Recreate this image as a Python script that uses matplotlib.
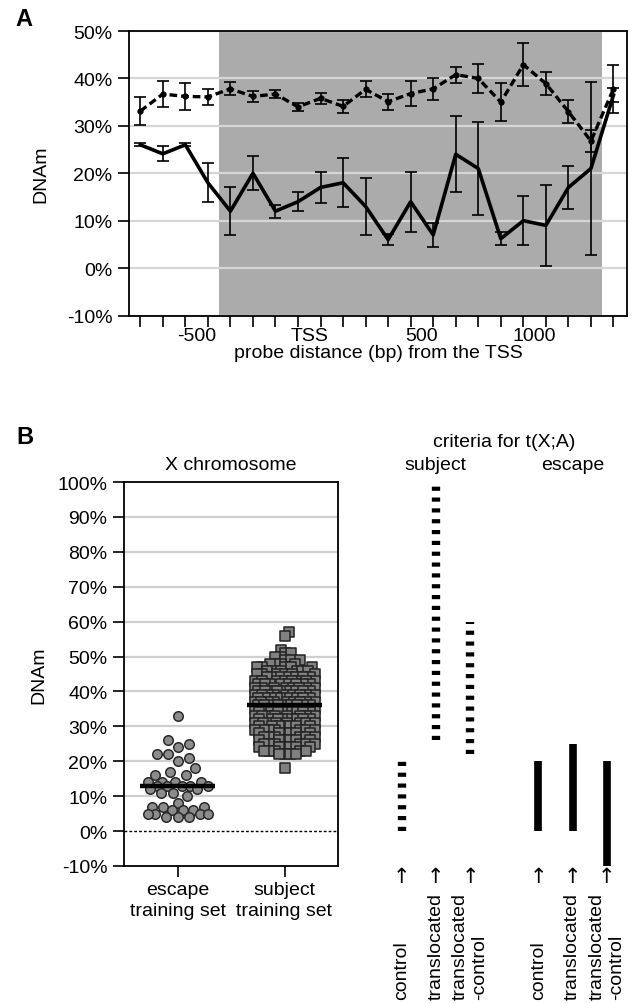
import matplotlib.pyplot as plt
import numpy as np
from matplotlib.ticker import PercentFormatter

# Panel A: probe positions (bp from the TSS) and mean DNAm (%) with error bars
PROBE_BP = [-750, -650, -550, -450, -350, -250, -150, -50, 50, 150, 250,
            350, 450, 550, 650, 750, 850, 950, 1050, 1150, 1250, 1350]
DNAM_DASHED = [33.1, 36.7, 36.2, 36.1, 37.8, 36.2, 36.7, 34.0, 35.8, 34.1, 37.7,
               35.1, 36.8, 37.8, 40.8, 40.0, 35.0, 42.9, 38.9, 33.0, 26.8, 37.8]
DNAM_DASHED_ERR = [2.9, 2.8, 2.8, 1.7, 1.4, 1.1, 0.8, 0.9, 1.1, 1.4, 1.7,
                   1.7, 2.6, 2.3, 1.7, 3.1, 4.0, 4.6, 2.5, 2.5, 2.4, 5.0]
DNAM_SOLID = [26.0, 24.1, 26.0, 18.0, 12.0, 20.0, 12.0, 14.0, 17.0, 18.0, 13.0,
              6.0, 14.0, 7.0, 24.0, 21.0, 6.2, 10.0, 9.0, 17.0, 21.0, 36.5]
DNAM_SOLID_ERR = [0.3, 1.6, 0.3, 4.1, 5.0, 3.6, 1.4, 2.0, 3.2, 5.2, 6.1,
                  1.1, 6.3, 2.6, 8.0, 9.9, 1.4, 5.2, 8.5, 4.6, 18.3, 1.5]
SHADED_BP = (-400, 1300)
TSS_TICKS = [-500, 0, 500, 1000]
TSS_TICK_LABELS = ['-500', 'TSS', '500', '1000']

# Panel B: X chromosome training sets (DNAm %)
ESCAPE_DNAM = [33, 26, 25, 24, 22, 22, 21, 20, 18, 17, 16, 16, 14, 14, 14, 14,
               13, 13, 13, 13, 13, 12, 12, 11, 11, 10, 8, 7, 7, 7, 6, 6, 6,
               5, 5, 5, 5, 4, 4, 4]
SUBJECT_LEVELS = [57, 56, 52, 51, 50, 49, 48, 47, 46, 45, 44, 43, 42, 41, 40,
                  39, 38, 37, 36, 35, 34, 33, 32, 31, 30, 29, 28, 27, 26, 25,
                  24, 23, 22, 18]
SUBJECT_COUNTS = [1, 1, 1, 2, 2, 3, 4, 5, 6, 6, 7, 8, 8, 8, 9,
                  9, 9, 9, 9, 9, 8, 8, 8, 8, 7, 7, 6, 6, 6, 6,
                  6, 5, 4, 1]
GROUP_LABELS = ['escape\ntraining set', 'subject\ntraining set']

# Panel B: criteria ranges for t(X;A)
CRITERIA_LABELS = ['control', 'translocated', 'translocated\n-control',
                   'control', 'translocated', 'translocated\n-control']
CRITERIA_LOW = [0, 26, 22, 0, 0, -10]
CRITERIA_HIGH = [20, 100, 60, 20, 25, 20]

plt.rcParams['font.family'] = ['Liberation Sans', 'DejaVu Sans']
plt.rcParams['font.size'] = 14
plt.rcParams['axes.unicode_minus'] = False


def swarm_offsets(values, ax, min_dist, max_half):
    """
    Greedy beeswarm layout for one column of points.
    :param values: y values of the points.
    :param ax: axes the points go on (used for the pixel scale).
    :param min_dist: wanted distance between marker centres, in pixels.
    :param max_half: largest horizontal offset allowed, in pixels.
    :return: horizontal offsets in data units.
    """

    bbox = ax.get_window_extent()
    x0, x1 = ax.get_xlim()
    y0, y1 = ax.get_ylim()
    px_x = bbox.width / (x1 - x0)
    px_y = bbox.height / (y1 - y0)

    ys = np.asarray(values, dtype=float) * px_y
    steps = np.arange(0.5, max_half + 0.01, 0.5)
    cands = np.concatenate([[0.0], np.column_stack([steps, -steps]).ravel()])

    placed_x, placed_y = [], []
    offsets = np.zeros(len(ys))
    for i in np.argsort(ys, kind='stable'):
        y = ys[i]
        px = np.array(placed_x)
        py = np.array(placed_y)
        near = np.abs(py - y) < min_dist if len(py) else np.zeros(0, dtype=bool)
        x = 0.0
        if near.any():
            d = np.hypot(cands[:, None] - px[near][None, :], y - py[near][None, :]).min(axis=1)
            ok = d >= min_dist
            x = cands[np.argmax(ok)] if ok.any() else cands[np.argmax(d)]
        placed_x.append(x)
        placed_y.append(y)
        offsets[i] = x
    return offsets / px_x


def style_axes(ax):
    for spine in ax.spines.values():
        spine.set_linewidth(1.3)
    ax.tick_params(axis='both', direction='out', length=8, width=1.2, labelsize=14)
    ax.tick_params(axis='y', pad=4)
    ax.yaxis.set_major_formatter(PercentFormatter(decimals=0))


def plot_panel_a(fig):
    ax = fig.add_axes([129 / 633, 1 - 316.5 / 1004, 498 / 633, 284.5 / 1004])
    style_axes(ax)

    ax.axvspan(*SHADED_BP, color='#ababab', lw=0, zorder=0)
    ax.set_axisbelow(True)
    ax.yaxis.grid(True, color='#d6d6d6', lw=1.6)

    ax.errorbar(PROBE_BP, DNAM_DASHED, yerr=DNAM_DASHED_ERR, fmt='none',
                ecolor='black', elinewidth=1.2, capsize=4, capthick=1.2, zorder=2)
    ax.errorbar(PROBE_BP, DNAM_SOLID, yerr=DNAM_SOLID_ERR, fmt='none',
                ecolor='black', elinewidth=1.2, capsize=4, capthick=1.2, zorder=2)
    ax.plot(PROBE_BP, DNAM_DASHED, color='black', lw=2.4, linestyle=(0, (2.3, 1.2)),
            marker='o', markersize=3.5, zorder=3)
    ax.plot(PROBE_BP, DNAM_SOLID, color='black', lw=2.6, zorder=3)

    ax.set_xlim(-800, 1410)
    ax.set_ylim(-10, 50)
    ax.set_yticks(range(-10, 51, 10))
    ax.set_xticks(PROBE_BP, labels=[])
    ax.set_xticks(TSS_TICKS, labels=TSS_TICK_LABELS, minor=True)
    ax.tick_params(axis='x', which='minor', length=0, pad=8)

    ax.set_xlabel('probe distance (bp) from the TSS')
    ax.xaxis.set_label_coords(0.5, -0.1)
    ax.set_ylabel('DNAm')
    ax.yaxis.set_label_coords(-0.16, 0.5)

    fig.text(24 / 633, 1 - 20 / 1004, 'A', fontsize=17, fontweight='bold',
             ha='center', va='center')


def plot_panel_b(fig):
    ax = fig.add_axes([124 / 633, 1 - 867 / 1004, 214 / 633, 384 / 1004])
    style_axes(ax)
    ax.set_xlim(-0.5, 1.5)
    ax.set_ylim(-10, 100)
    ax.set_yticks(range(-10, 101, 10))
    ax.set_xticks([0, 1], labels=GROUP_LABELS, linespacing=1.3)
    ax.tick_params(axis='x', pad=3)

    grid_levels = [t for t in ax.get_yticks() if 0 < t < 100]
    ax.hlines(grid_levels, -0.5, 1.5, color='#cfcfcf', lw=1.6, zorder=0)
    ax.axhline(0, color='black', lw=1, linestyle=(0, (2, 1.5)), zorder=1)

    subject = np.repeat(SUBJECT_LEVELS, SUBJECT_COUNTS)
    escape_x = 0 + swarm_offsets(ESCAPE_DNAM, ax, min_dist=11.5, max_half=30)
    subject_x = 1 + swarm_offsets(subject, ax, min_dist=5.5, max_half=30)

    ax.scatter(escape_x, ESCAPE_DNAM, s=47, marker='o', facecolor='#8c8c8c',
               edgecolor='#2a2a2a', linewidths=1.1, zorder=3)
    ax.scatter(subject_x, subject, s=50, marker='s', facecolor='#808080',
               edgecolor='#222222', linewidths=1.1, zorder=3)
    for pos, vals in enumerate([ESCAPE_DNAM, subject]):
        ax.hlines(np.mean(vals), pos - 0.35, pos + 0.35, color='black', lw=3.2, zorder=4)

    ax.set_title('X chromosome', fontsize=14, pad=9)
    ax.set_ylabel('DNAm')
    ax.yaxis.set_label_coords(-0.36, 0.5)

    # criteria ranges, drawn on the same DNAm scale
    cx = fig.add_axes([374.3 / 633, 1 - 867 / 1004, 256.5 / 633, 384 / 1004])
    cx.set_xlim(-0.8, 6.7)
    cx.set_ylim(-10, 100)
    cx.axis('off')

    positions = [0, 1, 2, 4, 5, 6]
    cx.vlines(positions[:3], CRITERIA_LOW[:3], CRITERIA_HIGH[:3], colors='black',
              linewidth=6, linestyles=[(0, (0.5, 0.8))])
    cx.vlines(positions[3:], CRITERIA_LOW[3:], CRITERIA_HIGH[3:], colors='black',
              linewidth=5.5)
    for pos, label in zip(positions, CRITERIA_LABELS):
        cx.text(pos, -13, '\u2191', ha='center', va='center', fontsize=15,
                family='DejaVu Sans', clip_on=False)
        cx.text(pos, -48, label, rotation=90, ha='center', va='bottom',
                multialignment='left', linespacing=1.15, clip_on=False)

    cx.text(3, 111.7, 'criteria for t(X;A)', ha='center', va='center', clip_on=False)
    cx.text(1, 104.9, 'subject', ha='center', va='center', clip_on=False)
    cx.text(5, 104.9, 'escape', ha='center', va='center', clip_on=False)

    fig.text(25 / 633, 1 - 438 / 1004, 'B', fontsize=17, fontweight='bold',
             ha='center', va='center')


if __name__ == '__main__':
    fig = plt.figure(figsize=(6.33, 10.04), dpi=100)
    plot_panel_a(fig)
    plot_panel_b(fig)
    fig.savefig('out.png', dpi=100)
